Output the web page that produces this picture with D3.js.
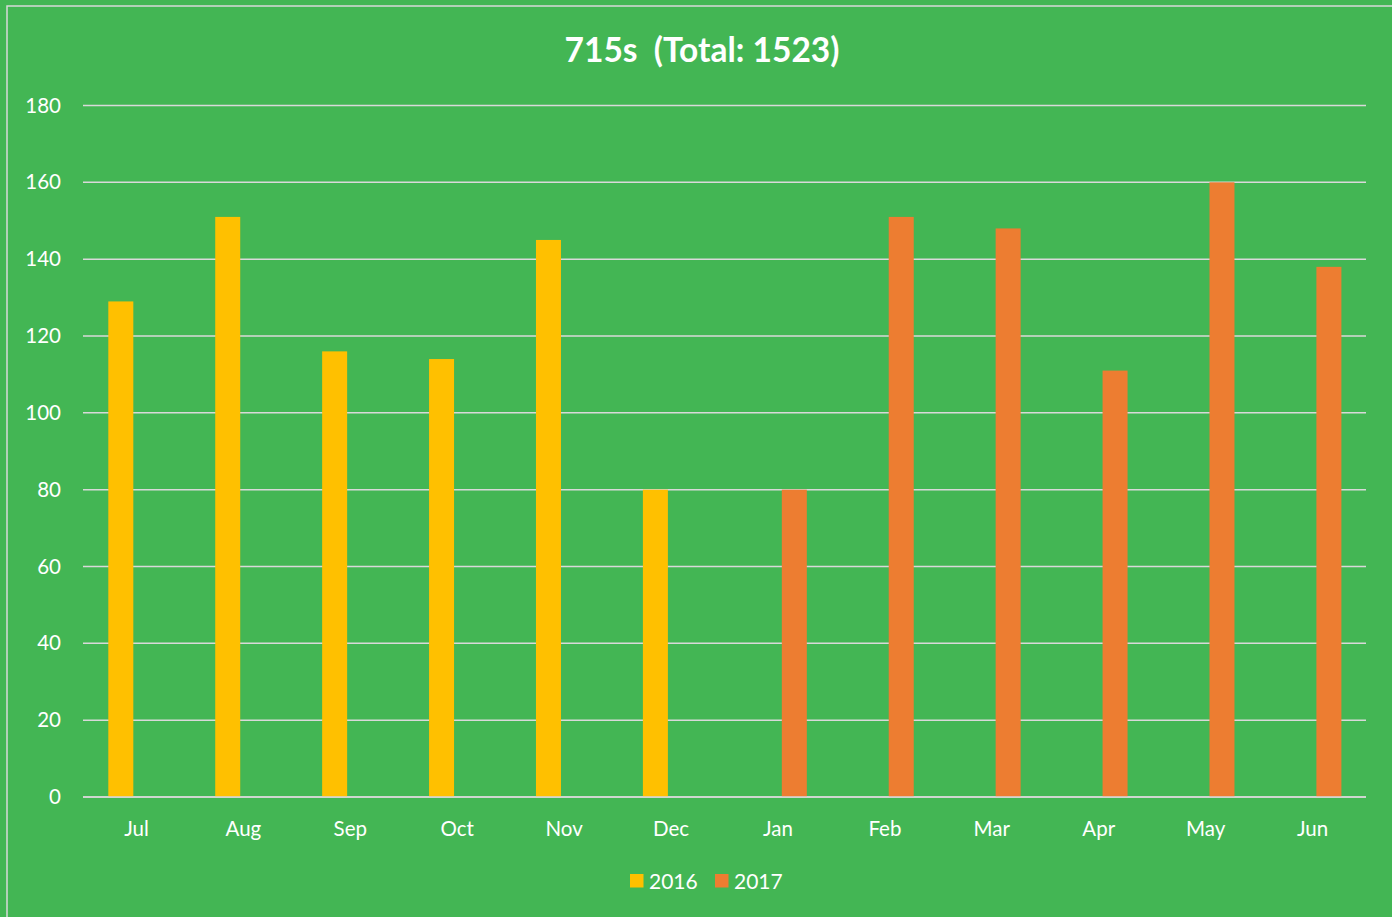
<!DOCTYPE html>
<html><head><meta charset="utf-8">
<script src="https://cdn.jsdelivr.net/npm/d3@7"></script>
<style>html,body{margin:0;padding:0;background:#43B654;overflow:hidden}svg{display:block}</style>
</head><body>
<script>
const categories = ["Jul","Aug","Sep","Oct","Nov","Dec","Jan","Feb","Mar","Apr","May","Jun"];
const seriesNames = ["2016","2017"];
const values2016 = [129,151,116,114,145,80,null,null,null,null,null,null];
const values2017 = [null,null,null,null,null,null,80,151,148,111,160,138];
const seriesColors = ["#FFC000","#ED7D31"];
const yTicks = [0,20,40,60,80,100,120,140,160,180];
const title = "715s  (Total: 1523)";

(function () {
const W = 1392, H = 917;
const font = "Lato, 'Open Sans', sans-serif";
const svg = d3.select("body").append("svg").attr("width", W).attr("height", H);
svg.append("rect").attr("width", W).attr("height", H).attr("fill", "#43B654");
svg.append("rect").attr("x", 7).attr("y", 6).attr("width", W + 10).attr("height", H + 10)
  .attr("fill", "none").attr("stroke", "#D9D9D9").attr("stroke-width", 1.5);

const pLeft = 83, pRight = 1366, pTop = 105.5, pBottom = 797;
const x0 = d3.scaleBand().domain(categories).range([pLeft, pRight]).padding(0);
const bw = x0.bandwidth();
const x1 = d3.scaleBand().domain(seriesNames).range([bw * 0.2367, bw * 0.7699]).paddingInner(0.21875).paddingOuter(0);
const y = d3.scaleLinear().domain([0, 180]).range([pBottom, pTop]);

svg.append("g").selectAll("line").data(yTicks).join("line")
  .attr("x1", pLeft).attr("x2", pRight)
  .attr("y1", d => y(d)).attr("y2", d => y(d))
  .attr("stroke", "#D9D9D9").attr("stroke-width", 1.5);

const yAxis = svg.append("g").attr("transform", `translate(${pLeft},0)`)
  .call(d3.axisLeft(y).tickValues(yTicks).tickSize(0).tickPadding(22));
yAxis.select(".domain").remove();
yAxis.selectAll("text").attr("fill", "#fff").attr("font-size", 20.5).attr("font-family", font);

const xAxis = svg.append("g").attr("transform", `translate(0,${pBottom})`)
  .call(d3.axisBottom(x0).tickSize(0).tickPadding(24));
xAxis.select(".domain").remove();
xAxis.selectAll("text").attr("fill", "#fff").attr("font-size", 20.5).attr("font-family", font);

const series = [values2016, values2017];
series.forEach((vals, si) => {
  svg.append("g").selectAll("rect")
    .data(categories.map((c, i) => ({c, v: vals[i]})).filter(d => d.v != null))
    .join("rect")
    .attr("x", d => x0(d.c) + x1(seriesNames[si]))
    .attr("width", x1.bandwidth())
    .attr("y", d => y(d.v))
    .attr("height", d => y(0) - y(d.v))
    .attr("fill", seriesColors[si]);
});

svg.append("line").attr("x1", pLeft).attr("x2", pRight).attr("y1", y(0)).attr("y2", y(0))
  .attr("stroke", "#D9D9D9").attr("stroke-width", 1.5);

svg.append("text").attr("x", 702).attr("y", 62).attr("text-anchor", "middle")
  .attr("fill", "#fff").attr("font-size", 33.5).attr("font-weight", "bold").attr("font-family", font)
  .style("white-space", "pre").text(title);

const legendX = [630, 715];
seriesNames.forEach((s, i) => {
  svg.append("rect").attr("x", legendX[i]).attr("y", 874).attr("width", 13.5).attr("height", 13.5).attr("fill", seriesColors[i]);
  svg.append("text").attr("x", legendX[i] + 19).attr("y", 888.5).attr("fill", "#fff")
    .attr("font-size", 21).attr("font-family", font).text(s);
});
})();
</script>
</body></html>
